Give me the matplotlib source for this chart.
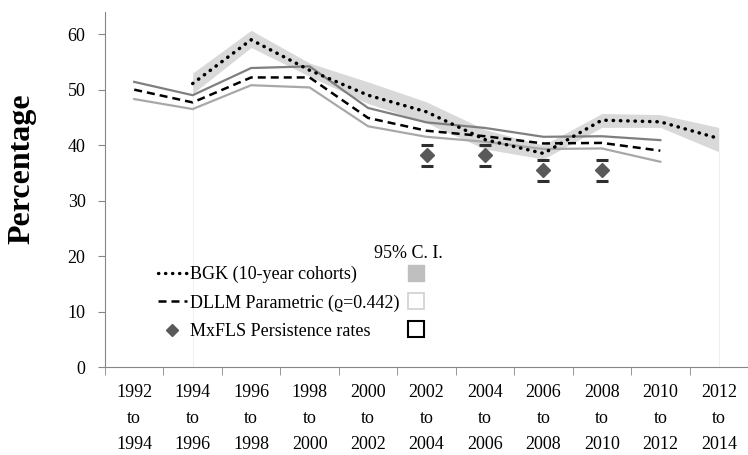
import numpy as np
import matplotlib.pyplot as plt
from matplotlib.lines import Line2D

plt.rcParams['font.family'] = ['Liberation Serif', 'DejaVu Serif']

# Data
periods = ['1992\nto\n1994', '1994\nto\n1996', '1996\nto\n1998', '1998\nto\n2000',
           '2000\nto\n2002', '2002\nto\n2004', '2004\nto\n2006', '2006\nto\n2008',
           '2008\nto\n2010', '2010\nto\n2012', '2012\nto\n2014']
nan = np.nan
dllm = [50.0, 47.7, 52.2, 52.2, 44.9, 42.6, 41.6, 40.3, 40.4, 39.0, nan]
dllm_hi = [51.4, 49.0, 53.9, 54.2, 46.7, 44.1, 43.1, 41.5, 41.6, 40.9, nan]
dllm_lo = [48.3, 46.5, 50.8, 50.4, 43.4, 41.5, 40.6, 39.3, 39.4, 37.0, nan]
bgk = [nan, 51.1, 59.0, 53.5, 49.0, 46.0, 41.0, 38.5, 44.5, 44.2, 41.2]
bgk_hi = [nan, 53.0, 60.7, 54.8, 51.4, 47.8, 42.8, 40.0, 45.7, 45.5, 43.2]
bgk_lo = [nan, 49.3, 57.6, 52.4, 47.5, 44.0, 39.3, 37.5, 43.2, 43.2, 38.8]
mx_idx = [5, 6, 7, 8]
mx = [38.2, 38.2, 35.5, 35.5]
mx_hi = [40.0, 40.0, 37.4, 37.4]
mx_lo = [36.2, 36.2, 33.6, 33.6]

x = np.arange(len(periods))
bgk = np.array(bgk)
bgk_lo = np.array(bgk_lo)
bgk_hi = np.array(bgk_hi)

fig = plt.figure(figsize=(7.48, 4.55), dpi=100)
ax = fig.add_axes([105 / 748, 1 - 367 / 455, 643 / 748, 355 / 455])

# BGK confidence band (with the faint edges of the white base area)
ok = ~np.isnan(bgk)
ax.fill_between(x[ok], bgk_lo[ok], bgk_hi[ok], color='#d9d9d9', lw=0, zorder=1)
ends = [x[ok][0], x[ok][-1]]
ax.vlines(ends, 0, [bgk_lo[ok][0], bgk_lo[ok][-1]], color='#efefef', lw=0.8, zorder=0.5)

# DLLM interval and estimate
ax.plot(x, dllm_hi, color='#7f7f7f', lw=1.6, zorder=2)
ax.plot(x, dllm_lo, color='#a8a8a8', lw=1.6, zorder=2)
ax.plot(x, dllm, color='black', lw=1.8, dashes=(3.2, 2.0), zorder=3)

# BGK estimate
ax.plot(x, bgk, color='black', lw=2.5, linestyle=(0, (0.1, 2.0)),
        dash_capstyle='round', zorder=4)

# MxFLS persistence rates with CI caps
ax.plot(mx_idx, mx, 'D', color='#595959', ms=7, zorder=5)
ax.plot(mx_idx, mx_hi, '_', color='#2e2e2e', ms=8, mew=2.2, zorder=5)
ax.plot(mx_idx, mx_lo, '_', color='#2e2e2e', ms=8, mew=2.2, zorder=5)

ax.set_xlim(-0.5, -0.5 + 643 / 58.8)
ax.set_ylim(0, 64)
ax.set_yticks(range(0, 61, 10))
ax.set_xticks(x)
ax.set_xticklabels(periods, linespacing=1.72)
ax.set_xticks(np.arange(-0.5, len(periods), 1), minor=True)
ax.tick_params(axis='x', which='major', length=0, pad=12, labelsize=13)
ax.tick_params(axis='x', which='minor', length=6, color='#868686')
ax.tick_params(axis='y', length=5, color='#868686', pad=9, labelsize=13)

for s in ['top', 'right']:
    ax.spines[s].set_visible(False)
for s in ['left', 'bottom']:
    ax.spines[s].set_color('#868686')

ax.set_ylabel('Percentage', fontsize=23, fontweight='bold')
ax.yaxis.set_label_coords(-0.106, 0.56)

# Legend
handles = [
    Line2D([], [], color='black', lw=2.4, linestyle=(0, (0.1, 2.0)), dash_capstyle='round'),
    Line2D([], [], color='black', lw=1.8, dashes=(3.2, 2.0)),
    Line2D([], [], color='#595959', marker='D', ms=6.5, ls='none'),
    Line2D([], [], marker='s', ms=12, ls='none', mfc='#bfbfbf', mec='#bfbfbf'),
    Line2D([], [], marker='s', ms=12, ls='none', mfc='white', mec='#d0d0d0', mew=1.2),
    Line2D([], [], marker='s', ms=12, ls='none', mfc='white', mec='black', mew=1.5),
]
labels = ['BGK (10-year cohorts)', 'DLLM Parametric (ϱ=0.442)', 'MxFLS Persistence rates',
          '', '', '']
fig.legend(handles, labels, ncol=2, loc='upper left',
           bbox_to_anchor=(158 / 748, 1 - 266 / 455), frameon=False,
           fontsize=13, handlelength=1.6, handletextpad=0.2, labelspacing=0.62,
           columnspacing=0.1, borderpad=0, borderaxespad=0)
fig.text(408 / 748, 1 - 253 / 455, '95% C. I.', fontsize=13, ha='center', va='center')

fig.savefig('out.png', dpi=100)
